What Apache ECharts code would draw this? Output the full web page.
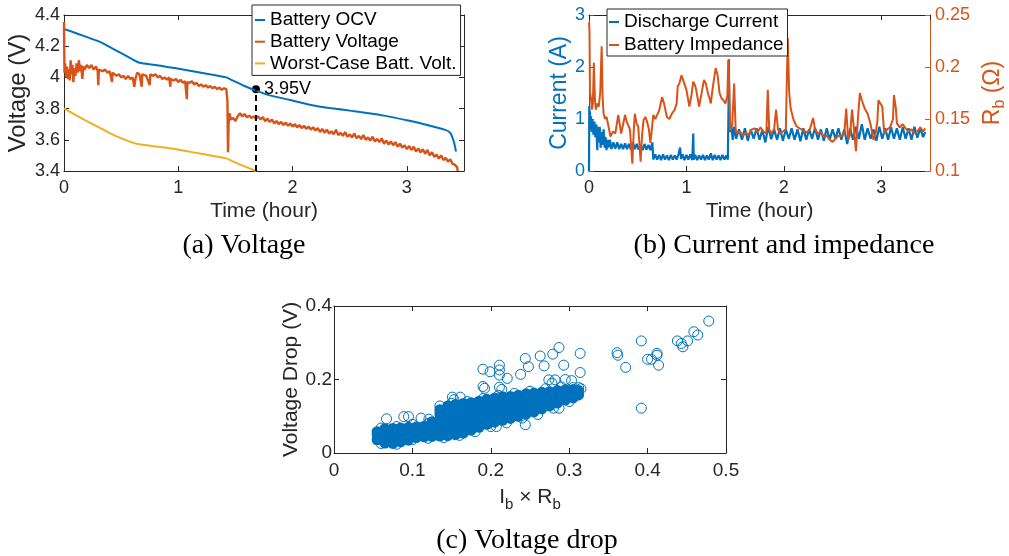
<!DOCTYPE html>
<html><head><meta charset="utf-8">
<script src="https://cdn.jsdelivr.net/npm/echarts@6/dist/echarts.min.js"></script>
<style>html,body{margin:0;padding:0;background:#fff}#c{width:1009px;height:556px}</style>
</head><body><div id="c"></div>
<script>
// ---------- (a) Voltage ----------
const ocvTime = [0,0.1,0.2,0.31,0.45,0.6,0.66,0.8,0.98,1.2,1.42,1.48,1.58,1.68,1.8,1.98,2.15,2.36,2.5,2.65,2.8,3.0,3.15,3.33,3.38,3.41,3.43];
const ocvVolt = [4.31,4.285,4.258,4.229,4.175,4.116,4.094,4.08,4.058,4.03,4.0,3.979,3.945,3.915,3.885,3.855,3.825,3.80,3.787,3.772,3.755,3.725,3.700,3.665,3.645,3.59,3.525];
const worstTime = [0,0.1,0.2,0.31,0.45,0.6,0.66,0.8,0.98,1.2,1.42,1.48,1.58,1.68];
const worstVolt = [3.802,3.76,3.72,3.678,3.625,3.582,3.571,3.557,3.539,3.51,3.481,3.46,3.43,3.40];
const battVoltage = [
[0,4.355],[0.004,4.03],[0.01,4.09],[0.018,4.0],[0.026,4.07],[0.034,3.99],[0.042,4.05],[0.05,3.98],[0.058,4.11],[0.066,4.02],
[0.074,4.08],[0.082,3.97],[0.09,4.06],[0.1,4.01],[0.11,4.09],[0.12,4.03],[0.13,4.11],[0.14,4.04],[0.15,4.08],[0.16,3.99],
[0.17,4.07],[0.18,4.05],[0.2,4.08],[0.22,4.06],[0.24,4.08],[0.26,4.05],[0.28,4.07],[0.295,4.04],[0.3,3.95],[0.305,4.05],
[0.32,4.06],[0.34,4.04],[0.36,4.05],[0.38,4.03],[0.4,4.04],[0.42,3.97],[0.425,4.03],[0.44,4.03],[0.46,4.01],[0.48,4.02],
[0.5,4.0],[0.52,4.01],[0.54,3.99],[0.56,4.01],[0.58,3.99],[0.6,4.0],[0.615,3.94],[0.625,3.99],[0.64,4.03],[0.66,4.02],
[0.68,3.94],[0.685,4.02],[0.7,4.025],[0.72,4.01],[0.75,3.95],[0.755,4.02],[0.78,4.01],[0.8,4.02],[0.82,4.0],[0.84,4.01],
[0.86,3.99],[0.88,4.0],[0.9,3.985],[0.92,4.0],[0.93,3.94],[0.935,3.99],[0.96,3.98],[0.98,3.99],[1.0,3.97],[1.02,3.985],
[1.04,3.965],[1.06,3.975],[1.075,3.86],[1.08,3.97],[1.1,3.965],[1.12,3.975],[1.14,3.955],[1.16,3.965],[1.18,3.945],[1.2,3.955],
[1.22,3.94],[1.24,3.95],[1.26,3.935],[1.28,3.945],[1.3,3.93],[1.32,3.94],[1.34,3.925],[1.36,3.935],[1.38,3.92],[1.4,3.93],
[1.42,3.925],[1.43,3.85],[1.435,3.52],[1.44,3.70],[1.448,3.77],[1.46,3.73],[1.48,3.74],[1.5,3.72],[1.52,3.75],[1.54,3.77],
[1.56,3.75],[1.58,3.765],[1.6,3.745],[1.62,3.755],[1.64,3.74],[1.66,3.75],[1.68,3.735],[1.7,3.75],[1.72,3.73],[1.74,3.745],
[1.76,3.72],[1.78,3.735],[1.8,3.715],[1.82,3.73],[1.84,3.705],[1.86,3.72],[1.88,3.70],[1.9,3.715],[1.92,3.695],[1.94,3.71],
[1.96,3.69],[1.98,3.705],[2.0,3.685],[2.02,3.70],[2.04,3.68],[2.06,3.695],[2.08,3.675],[2.1,3.69],[2.12,3.67],[2.14,3.685],
[2.16,3.665],[2.18,3.68],[2.2,3.66],[2.22,3.675],[2.24,3.65],[2.26,3.67],[2.28,3.645],[2.3,3.665],[2.32,3.64],[2.34,3.655],
[2.36,3.635],[2.38,3.665],[2.4,3.63],[2.42,3.645],[2.44,3.625],[2.46,3.65],[2.48,3.62],[2.5,3.635],[2.52,3.615],[2.54,3.64],
[2.56,3.61],[2.58,3.625],[2.6,3.605],[2.62,3.63],[2.64,3.60],[2.66,3.615],[2.68,3.595],[2.7,3.62],[2.72,3.59],[2.74,3.605],
[2.76,3.585],[2.78,3.61],[2.8,3.575],[2.82,3.595],[2.84,3.57],[2.86,3.59],[2.88,3.565],[2.9,3.585],[2.92,3.555],[2.94,3.575],
[2.96,3.55],[2.98,3.565],[3.0,3.54],[3.02,3.56],[3.04,3.535],[3.06,3.555],[3.08,3.525],[3.1,3.545],[3.12,3.52],[3.14,3.54],
[3.16,3.51],[3.18,3.535],[3.2,3.50],[3.22,3.52],[3.24,3.49],[3.26,3.505],[3.28,3.48],[3.3,3.50],[3.32,3.47],[3.34,3.485],
[3.36,3.46],[3.38,3.475],[3.4,3.445],[3.42,3.44],[3.44,3.425],[3.445,3.40]];
const markTime = 1.68, markVolt = 3.924, markLabel = '3.95V';
const aYTicks = {min:3.4, max:4.4, interval:0.2};
const timeTicks = {min:0, max:3.5, interval:1};

// ---------- (b) Current and impedance ----------
const dischargeCurrent = [
[0,0],[0.003,1.25],[0.006,0.85],[0.01,1.15],[0.015,0.8],[0.02,1.05],[0.028,0.75],[0.035,1.0],[0.045,0.7],[0.055,0.95],
[0.065,0.65],[0.075,0.9],[0.085,0.4],[0.09,0.85],[0.1,0.55],[0.11,0.85],[0.12,0.45],[0.13,0.75],[0.14,0.5],[0.15,0.8],
[0.16,0.45],[0.17,0.65],[0.18,0.4],[0.19,0.6],[0.2,0.45],[0.215,0.6],[0.23,0.42],[0.25,0.55],[0.27,0.43],[0.29,0.55],
[0.31,0.42],[0.33,0.52],[0.35,0.42],[0.37,0.53],[0.39,0.42],[0.41,0.52],[0.43,0.41],[0.45,0.55],[0.47,0.42],[0.49,0.52],
[0.51,0.41],[0.53,0.5],[0.55,0.4],[0.57,0.52],[0.59,0.41],[0.61,0.5],[0.63,0.4],[0.65,0.55],[0.66,0.22],[0.68,0.32],
[0.7,0.22],[0.72,0.31],[0.74,0.21],[0.76,0.32],[0.78,0.22],[0.8,0.3],[0.82,0.21],[0.84,0.31],[0.86,0.22],[0.88,0.3],
[0.9,0.22],[0.92,0.33],[0.935,0.45],[0.945,0.23],[0.96,0.32],[0.98,0.21],[1.0,0.31],[1.02,0.22],[1.04,0.32],[1.06,0.21],
[1.07,0.72],[1.075,0.22],[1.09,0.31],[1.11,0.21],[1.13,0.3],[1.15,0.22],[1.17,0.31],[1.19,0.21],[1.21,0.3],[1.23,0.22],
[1.25,0.34],[1.27,0.21],[1.29,0.31],[1.31,0.22],[1.33,0.3],[1.35,0.21],[1.37,0.31],[1.39,0.22],[1.41,0.3],[1.425,0.22],
[1.432,1.2],[1.436,2.15],[1.44,0.95],[1.45,0.75],[1.46,0.9],[1.475,0.6],[1.49,0.85],[1.51,0.62],[1.54,0.8],[1.57,0.6],
[1.6,0.82],[1.63,0.58],[1.66,0.8],[1.69,0.62],[1.72,0.82],[1.75,0.6],[1.78,0.79],[1.81,0.55],[1.84,0.85],[1.87,0.61],
[1.9,0.8],[1.93,0.6],[1.96,0.82],[1.99,0.58],[2.02,0.8],[2.05,0.62],[2.08,0.82],[2.11,0.6],[2.14,0.8],[2.17,0.57],
[2.2,0.82],[2.23,0.6],[2.26,0.8],[2.29,0.62],[2.32,0.83],[2.35,0.6],[2.38,0.8],[2.41,0.58],[2.44,0.82],[2.47,0.6],
[2.5,0.8],[2.53,0.62],[2.56,0.82],[2.59,0.6],[2.62,0.8],[2.65,0.52],[2.68,0.82],[2.71,0.6],[2.74,0.85],[2.77,0.62],
[2.8,0.9],[2.83,0.6],[2.86,0.82],[2.89,0.62],[2.92,0.8],[2.95,0.58],[2.98,0.85],[3.01,0.62],[3.04,0.82],[3.07,0.6],
[3.1,0.84],[3.13,0.62],[3.16,0.82],[3.19,0.6],[3.22,0.84],[3.25,0.62],[3.28,0.82],[3.31,0.6],[3.34,0.85],[3.37,0.64],
[3.4,0.82],[3.43,0.65],[3.45,0.75]];
const batteryImpedance = [
[0,0.243],[0.005,0.235],[0.01,0.176],[0.02,0.17],[0.03,0.159],[0.04,0.165],[0.05,0.204],[0.06,0.17],[0.07,0.159],[0.085,0.165],
[0.1,0.162],[0.115,0.175],[0.13,0.22],[0.14,0.17],[0.15,0.155],[0.165,0.15],[0.18,0.152],[0.2,0.143],[0.22,0.133],[0.245,0.138],
[0.27,0.136],[0.3,0.154],[0.315,0.145],[0.33,0.136],[0.35,0.145],[0.37,0.154],[0.385,0.148],[0.4,0.149],[0.42,0.14],[0.445,0.107],
[0.46,0.14],[0.47,0.155],[0.49,0.145],[0.505,0.143],[0.53,0.109],[0.545,0.135],[0.56,0.149],[0.58,0.152],[0.6,0.146],[0.615,0.14],
[0.63,0.127],[0.645,0.14],[0.66,0.154],[0.68,0.15],[0.7,0.154],[0.72,0.158],[0.75,0.171],[0.77,0.165],[0.8,0.152],[0.825,0.15],
[0.85,0.155],[0.88,0.159],[0.9,0.165],[0.91,0.181],[0.93,0.185],[0.95,0.192],[0.975,0.185],[1.0,0.178],[1.015,0.17],[1.03,0.162],
[1.05,0.172],[1.07,0.186],[1.09,0.182],[1.1,0.178],[1.115,0.17],[1.13,0.162],[1.15,0.172],[1.18,0.1875],[1.2,0.184],[1.22,0.175],
[1.24,0.169],[1.25,0.165],[1.27,0.18],[1.3,0.199],[1.32,0.192],[1.34,0.175],[1.36,0.17],[1.38,0.168],[1.4,0.165],[1.42,0.172],
[1.43,0.207],[1.44,0.18],[1.45,0.139],[1.47,0.145],[1.49,0.184],[1.505,0.14],[1.52,0.136],[1.55,0.138],[1.58,0.134],[1.61,0.137],
[1.64,0.135],[1.67,0.14],[1.7,0.141],[1.73,0.137],[1.76,0.142],[1.79,0.138],[1.82,0.136],[1.835,0.178],[1.85,0.14],[1.87,0.136],
[1.9,0.14],[1.92,0.159],[1.94,0.14],[1.96,0.136],[1.99,0.138],[2.02,0.14],[2.04,0.228],[2.055,0.175],[2.07,0.16],[2.1,0.149],
[2.13,0.143],[2.16,0.141],[2.2,0.139],[2.24,0.137],[2.27,0.141],[2.3,0.151],[2.32,0.14],[2.35,0.136],[2.38,0.138],[2.41,0.133],
[2.44,0.134],[2.47,0.13],[2.5,0.128],[2.53,0.131],[2.56,0.134],[2.59,0.133],[2.62,0.136],[2.64,0.16],[2.66,0.13],[2.68,0.135],
[2.7,0.159],[2.72,0.14],[2.74,0.119],[2.76,0.15],[2.78,0.175],[2.8,0.168],[2.83,0.16],[2.86,0.155],[2.89,0.145],[2.92,0.13],
[2.94,0.135],[2.96,0.148],[2.97,0.168],[2.99,0.165],[3.01,0.162],[3.03,0.136],[3.06,0.14],[3.09,0.142],[3.12,0.15],[3.13,0.173],
[3.15,0.16],[3.16,0.146],[3.19,0.142],[3.22,0.145],[3.25,0.141],[3.28,0.138],[3.31,0.14],[3.34,0.136],[3.37,0.138],[3.4,0.142],
[3.43,0.138],[3.45,0.141]];
const currentTicks = {min:0, max:3, interval:1};
const impedanceTicks = {min:0.1, max:0.25, interval:0.05};

// ---------- (c) Voltage drop ----------
// dense core of the cloud (the circles overlap into a solid band)
const dropCore = [
[0.055,0.036],[0.055,0.05],[0.055,0.058],
[0.065,0.027],[0.065,0.042],[0.065,0.057],[0.065,0.066],
[0.075,0.026],[0.075,0.04],[0.075,0.055],[0.075,0.067],
[0.085,0.03],[0.085,0.045],[0.085,0.06],[0.085,0.068],
[0.095,0.035],[0.095,0.05],[0.095,0.065],[0.095,0.07],
[0.105,0.042],[0.105,0.057],[0.105,0.071],
[0.115,0.044],[0.115,0.059],[0.115,0.073],
[0.125,0.045],[0.125,0.06],[0.125,0.075],[0.125,0.085],
[0.135,0.046],[0.135,0.061],[0.135,0.076],[0.135,0.091],[0.135,0.106],[0.135,0.118],
[0.145,0.047],[0.145,0.062],[0.145,0.077],[0.145,0.092],[0.145,0.107],[0.145,0.122],[0.145,0.128],
[0.155,0.05],[0.155,0.065],[0.155,0.08],[0.155,0.095],[0.155,0.11],[0.155,0.125],[0.155,0.132],
[0.165,0.054],[0.165,0.069],[0.165,0.084],[0.165,0.099],[0.165,0.114],[0.165,0.129],[0.165,0.135],
[0.175,0.062],[0.175,0.077],[0.175,0.092],[0.175,0.107],[0.175,0.122],[0.175,0.137],
[0.185,0.07],[0.185,0.085],[0.185,0.1],[0.185,0.115],[0.185,0.13],[0.185,0.141],
[0.195,0.078],[0.195,0.093],[0.195,0.108],[0.195,0.123],[0.195,0.138],[0.195,0.146],
[0.205,0.084],[0.205,0.099],[0.205,0.114],[0.205,0.129],[0.205,0.144],[0.205,0.15],
[0.215,0.089],[0.215,0.104],[0.215,0.119],[0.215,0.134],[0.215,0.149],[0.215,0.153],
[0.225,0.094],[0.225,0.109],[0.225,0.124],[0.225,0.139],[0.225,0.154],
[0.235,0.1],[0.235,0.115],[0.235,0.13],[0.235,0.145],[0.235,0.157],
[0.245,0.106],[0.245,0.121],[0.245,0.136],[0.245,0.151],[0.245,0.161],
[0.255,0.112],[0.255,0.127],[0.255,0.142],[0.255,0.157],[0.255,0.163],
[0.265,0.12],[0.265,0.135],[0.265,0.15],[0.265,0.165],
[0.275,0.128],[0.275,0.143],[0.275,0.158],[0.275,0.167],
[0.285,0.136],[0.285,0.151],[0.285,0.166],[0.285,0.17],
[0.295,0.144],[0.295,0.159],[0.295,0.172],
[0.305,0.15],[0.305,0.164],[0.305,0.173],
[0.312,0.158],[0.312,0.17]];
// individual circles on the rim of the cloud and the outliers
const dropPoints = [
[0.06,0.068],[0.08,0.072],[0.1,0.078],[0.12,0.08],[0.135,0.128],[0.15,0.135],[0.17,0.14],[0.19,0.148],[0.21,0.157],[0.23,0.162],
[0.25,0.168],[0.27,0.175],[0.29,0.18],[0.305,0.178],[0.315,0.175],
[0.06,0.026],[0.08,0.024],[0.1,0.036],[0.12,0.04],[0.14,0.042],[0.16,0.048],[0.18,0.058],[0.2,0.072],[0.22,0.082],[0.24,0.095],
[0.26,0.105],[0.28,0.122],[0.3,0.14],
[0.067,0.093],[0.089,0.099],[0.095,0.099],[0.111,0.095],[0.121,0.092],[0.151,0.152],[0.161,0.152],[0.153,0.145],
[0.19,0.228],[0.199,0.221],[0.211,0.239],[0.211,0.226],[0.211,0.212],[0.221,0.203],[0.19,0.181],[0.192,0.176],[0.211,0.179],[0.214,0.173],
[0.238,0.214],[0.244,0.257],[0.248,0.235],[0.263,0.264],[0.268,0.237],[0.279,0.269],[0.287,0.287],[0.293,0.239],[0.314,0.271],[0.314,0.219],
[0.295,0.2],[0.303,0.197],[0.274,0.199],[0.282,0.199],[0.244,0.077],[0.207,0.072],[0.287,0.122],[0.278,0.19],[0.312,0.178],
[0.361,0.273],[0.362,0.266],[0.372,0.233],[0.392,0.305],[0.392,0.122],[0.4,0.255],[0.405,0.255],[0.412,0.266],[0.414,0.239],[0.412,0.271],
[0.438,0.305],[0.443,0.298],[0.445,0.289],[0.451,0.305],[0.459,0.33],[0.464,0.321],[0.478,0.359]];
const dropXTicks = {min:0, max:0.5, interval:0.1};
const dropYTicks = {min:0, max:0.4, interval:0.2};

const captions = ['(a) Voltage', '(b) Current and impedance', '(c) Voltage drop'];

// ---------- styling ----------
const BLUE = '#0072BD', ORANGE = '#D95319', YELLOW = '#EDB120', AX = '#262626';
const SANS = '"Liberation Sans", Arial, Helvetica, sans-serif';
const SERIF = '"Liberation Serif", "Times New Roman", serif';
const zip = (xs, ys) => xs.map((x, i) => [x, ys[i]]);

function axisBase(color, ticks) {
  return {
    type: 'value', min: ticks.min, max: ticks.max, interval: ticks.interval,
    axisLine: {show: true, onZero: false, lineStyle: {color: color, width: 1}},
    axisTick: {show: true, inside: true, length: 5, lineStyle: {color: color}},
    splitLine: {show: false},
    axisLabel: {color: color, fontFamily: SANS, fontSize: 18},
    nameTextStyle: {color: color, fontFamily: SANS}
  };
}
function mirror(pos, color, ticks, grid) {
  const a = axisBase(color, ticks);
  a.gridIndex = grid; a.position = pos; a.axisLabel = {show: false};
  return a;
}

const xA = Object.assign(axisBase(AX, timeTicks), {gridIndex: 0, position: 'bottom', name: 'Time (hour)', nameLocation: 'middle', nameGap: 30});
xA.axisLabel.showMaxLabel = false; xA.axisLabel.margin = 8; xA.nameTextStyle.fontSize = 21;
const yA = Object.assign(axisBase(AX, aYTicks), {gridIndex: 0, position: 'left', name: 'Voltage (V)', nameLocation: 'middle', nameGap: 34});
yA.axisLabel.margin = 4; yA.nameTextStyle.fontSize = 24;

const xB = Object.assign(axisBase(AX, timeTicks), {gridIndex: 1, position: 'bottom', name: 'Time (hour)', nameLocation: 'middle', nameGap: 30});
xB.axisLabel.showMaxLabel = false; xB.axisLabel.margin = 8; xB.nameTextStyle.fontSize = 21;
const yBL = Object.assign(axisBase(BLUE, currentTicks), {gridIndex: 1, position: 'left', name: 'Current (A)', nameLocation: 'middle', nameGap: 16});
yBL.axisLabel.margin = 4; yBL.nameTextStyle.fontSize = 23;
const yBR = Object.assign(axisBase(ORANGE, impedanceTicks), {gridIndex: 1, position: 'right', name: '{m|R}{s|b}{m| (Ω)}', nameLocation: 'middle', nameGap: 48});
yBR.axisLabel.margin = 5;
yBR.nameTextStyle = {color: ORANGE, fontFamily: SANS, rich: {m: {fontSize: 23, color: ORANGE, fontFamily: SANS}, s: {fontSize: 16, color: ORANGE, fontFamily: SANS, padding: [14, 0, 0, 0]}}};

const xC = Object.assign(axisBase(AX, dropXTicks), {gridIndex: 2, position: 'bottom', name: '{m|I}{s|b}{m| × R}{s|b}', nameLocation: 'middle', nameGap: 30});
xC.axisLabel.margin = 8; xC.axisLabel.fontSize = 19;
xC.nameTextStyle = {color: AX, fontFamily: SANS, rich: {m: {fontSize: 21, color: AX, fontFamily: SANS}, s: {fontSize: 15, color: AX, fontFamily: SANS, padding: [14, 0, 0, 0]}}};
const yC = Object.assign(axisBase(AX, dropYTicks), {gridIndex: 2, position: 'left', name: 'Voltage Drop (V)', nameLocation: 'middle', nameGap: 30});
yC.axisLabel.margin = 2; yC.axisLabel.fontSize = 19; yC.nameTextStyle.fontSize = 21;

const legendText = {color: '#000', fontFamily: SANS, fontSize: 19, lineHeight: 20};
const captionStyle = (text, x, y) => ({type: 'text', z: 10, style: {text: text, fontFamily: SERIF, fontSize: 28, fill: '#000', x: x, y: y, align: 'center', verticalAlign: 'middle'}});

const option = {
  animation: false,
  backgroundColor: '#fff',
  grid: [
    {left: 64, top: 15, width: 400, height: 156},
    {left: 589, top: 15, width: 345, height: 156},
    {left: 334, top: 306, width: 392, height: 147}
  ],
  xAxis: [xA, mirror('top', AX, timeTicks, 0), xB, mirror('top', AX, timeTicks, 1), xC, mirror('top', AX, dropXTicks, 2)],
  yAxis: [yA, mirror('right', AX, aYTicks, 0), yBL, yBR, yC, mirror('right', AX, dropYTicks, 2)],
  legend: [
    {data: ['Battery OCV', 'Battery Voltage', 'Worst-Case Batt. Volt.'], orient: 'vertical', left: 252, top: 5,
     icon: 'rect', itemWidth: 10, itemHeight: 2, itemGap: 1.7, padding: [5, 4, 2, 3],
     borderColor: AX, borderWidth: 1, backgroundColor: '#fff', textStyle: legendText, selectedMode: false},
    {data: ['Discharge Current', 'Battery Impedance'], orient: 'vertical', left: 607, top: 9,
     icon: 'rect', itemWidth: 10, itemHeight: 2, itemGap: 3, padding: [3, 4, 1, 2],
     borderColor: AX, borderWidth: 1, backgroundColor: '#fff', textStyle: legendText, selectedMode: false}
  ],
  series: [
    {name: 'Battery OCV', type: 'line', xAxisIndex: 0, yAxisIndex: 0, data: zip(ocvTime, ocvVolt), showSymbol: false, smooth: 0.3,
     color: BLUE, lineStyle: {color: BLUE, width: 2}},
    {name: 'Battery Voltage', type: 'line', xAxisIndex: 0, yAxisIndex: 0, data: battVoltage, showSymbol: false,
     color: ORANGE, lineStyle: {color: ORANGE, width: 2.4}},
    {name: 'Worst-Case Batt. Volt.', type: 'line', xAxisIndex: 0, yAxisIndex: 0, data: zip(worstTime, worstVolt), showSymbol: false, smooth: 0.3,
     color: YELLOW, lineStyle: {color: YELLOW, width: 2}},
    {name: 'dash', type: 'line', xAxisIndex: 0, yAxisIndex: 0, data: [[markTime, aYTicks.min], [markTime, markVolt]], showSymbol: false,
     lineStyle: {color: '#000', width: 2, type: [6, 4]}, silent: true},
    {name: 'mark', type: 'scatter', xAxisIndex: 0, yAxisIndex: 0, data: [[markTime, markVolt]], symbolSize: 8,
     itemStyle: {color: '#000', opacity: 1}, label: {show: true, position: 'right', distance: 4, formatter: markLabel, color: '#000', fontFamily: SANS, fontSize: 18}},

    {name: 'Discharge Current', type: 'line', xAxisIndex: 2, yAxisIndex: 2, data: dischargeCurrent, showSymbol: false,
     color: BLUE, lineStyle: {color: BLUE, width: 2.2}},
    {name: 'Battery Impedance', type: 'line', xAxisIndex: 2, yAxisIndex: 3, data: batteryImpedance, showSymbol: false,
     color: ORANGE, lineStyle: {color: ORANGE, width: 2}},

    {name: 'core', type: 'scatter', xAxisIndex: 4, yAxisIndex: 4, data: dropCore, symbol: 'circle', symbolSize: 11,
     itemStyle: {color: BLUE, opacity: 1}},
    {name: 'drops', type: 'scatter', xAxisIndex: 4, yAxisIndex: 4, data: dropPoints, symbol: 'circle', symbolSize: 10,
     itemStyle: {color: 'rgba(0,0,0,0)', borderColor: BLUE, borderWidth: 1, opacity: 1}}
  ],
  graphic: [
    captionStyle(captions[0], 244, 246),
    captionStyle(captions[1], 784, 246),
    captionStyle(captions[2], 527, 541)
  ]
};

const chart = echarts.init(document.getElementById('c'), null, {renderer: 'canvas'});
chart.setOption(option);
</script></body></html>
